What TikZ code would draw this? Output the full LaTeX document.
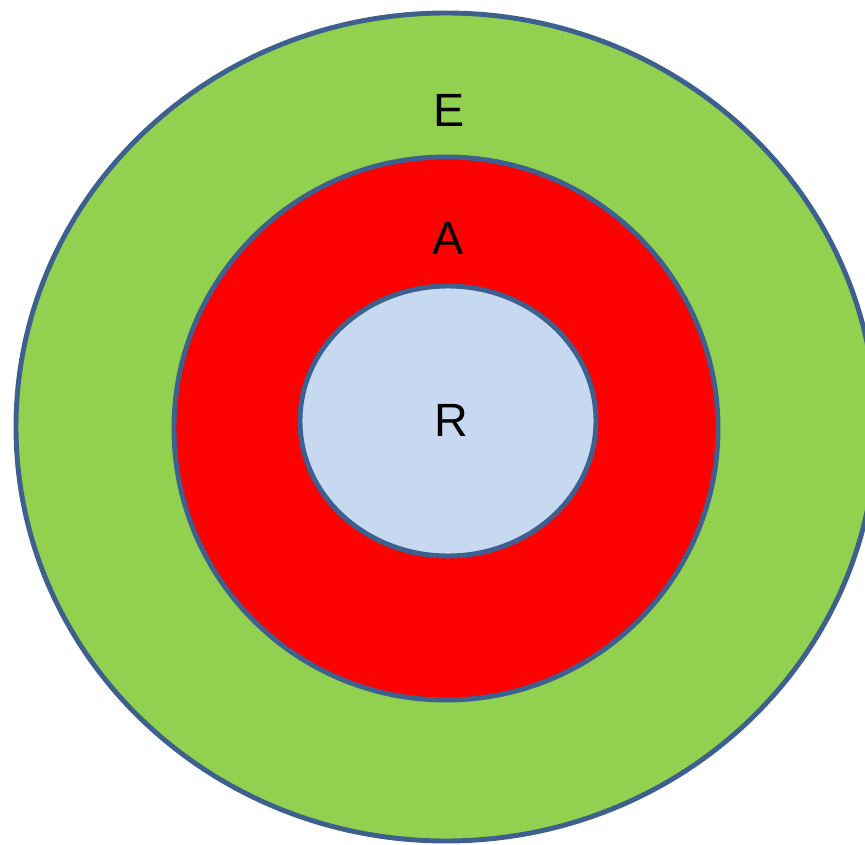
\documentclass[tikz,border=0pt]{standalone}
\usepackage{fontspec}
\setmainfont{Liberation Sans}
\definecolor{ringline}{RGB}{62,96,142}
\definecolor{outergreen}{RGB}{146,208,80}
\definecolor{middlered}{RGB}{255,0,0}
\definecolor{innerblue}{RGB}{198,217,240}
\begin{document}
\begin{tikzpicture}[
  x=0.75pt, y=-0.75pt,
  every node/.style={font=\fontsize{35}{40}\selectfont},
  ring/.style={draw=ringline, line width=3.7pt},
  letter/.style={inner sep=0pt, anchor=center}
]
\useasboundingbox (0,0) rectangle (865,845);
\clip (0,0) rectangle (865,845);

% Rings
\filldraw[ring, fill=outergreen] (446,427) ellipse [x radius=430, y radius=414];
\filldraw[ring, fill=middlered]  (446,428.5) ellipse [x radius=272, y radius=271.5];
\filldraw[ring, fill=innerblue]  (448,421) ellipse [x radius=148, y radius=135];

% Labels
\node[letter] (lE) at (449,110) {E};
\node[letter] (lA) at (448,238) {A};
\node[letter] (lR) at (451,420.5) {R};
\end{tikzpicture}
\end{document}
